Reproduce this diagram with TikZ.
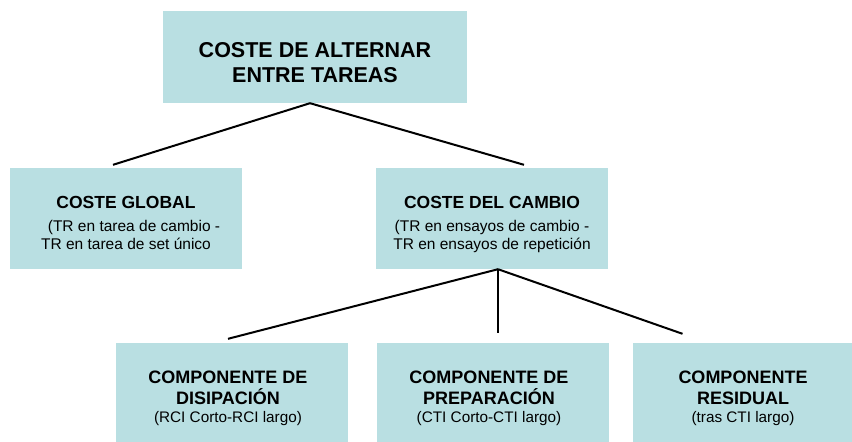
\documentclass[tikz,border=0pt]{standalone}
\usepackage{fontspec}
\setmainfont{Liberation Sans}
\definecolor{cajaazul}{RGB}{185,223,226}

\begin{document}
\begin{tikzpicture}[x=1pt,y=-1pt]
        \tikzstyle{caja}=[fill=cajaazul,inner sep=0pt,minimum width=232pt]
        \tikzstyle{texto}=[align=center,inner sep=0pt,text=black]
        \tikzstyle{linea}=[line width=2pt]
        \tikzstyle{titulo}=[font=\fontsize{17.5}{21}\selectfont\bfseries]
        \tikzstyle{desc}=[font=\fontsize{15.5}{18.3}\selectfont]
        \tikzstyle{comp}=[font=\fontsize{18}{21}\selectfont\bfseries]
        \useasboundingbox (0,0) rectangle (852,442);
        \node[caja,minimum width=304pt,minimum height=92pt] (raiz) at (315,57) {};
        \node[caja,minimum height=101pt] (global) at (126,218.5) {};
        \node[caja,minimum height=101pt] (cambio) at (492,218.5) {};
        \node[caja,minimum height=99pt] (disip) at (232,392.5) {};
        \node[caja,minimum height=99pt] (prep) at (493,392.5) {};
        \node[caja,minimum width=219pt,minimum height=99pt] (resid) at (742.5,392.5) {};
        \node[texto,font=\fontsize{21.5}{25}\selectfont\bfseries] (raiztxt) at (315,62.6) {COSTE DE ALTERNAR\\ENTRE TAREAS};
        \node[texto,desc] (globaltxt) at (126,222.8) {{\fontsize{17.5}{21}\selectfont\bfseries COSTE GLOBAL}\\[5pt]\hspace*{16pt}(TR en tarea de cambio -\\TR en tarea de set único};
        \node[texto,desc] (cambiotxt) at (492,224.5) {{\fontsize{17.5}{21}\selectfont\bfseries COSTE DEL CAMBIO}\\[5pt](TR en ensayos de cambio -\hspace*{10pt}\\TR en ensayos de repetición};
        \node[texto,comp] (disiptxt) at (228,398.5) {COMPONENTE DE\\DISIPACIÓN\\[-3pt]{\fontsize{15.3}{18}\selectfont\mdseries (RCI Corto-RCI largo)}};
        \node[texto,comp] (preptxt) at (489,398.5) {COMPONENTE DE\\PREPARACIÓN\\[-3pt]{\fontsize{15.3}{18}\selectfont\mdseries (CTI Corto-CTI largo)}};
        \node[texto,comp] (residtxt) at (743,398.5) {COMPONENTE\\RESIDUAL\\[-3pt]{\fontsize{15.3}{18}\selectfont\mdseries (tras CTI largo)}};
        \draw[linea] ([xshift=-5pt]raiz.south) -- ([shift={(-13,-3)}]global.north);
        \draw[linea] ([xshift=-5pt]raiz.south) -- ([shift={(32,-3)}]cambio.north);
        \draw[linea] ([xshift=6pt]cambio.south) -- ([shift={(-4,-4)}]disip.north);
        \draw[linea] ([xshift=6pt]cambio.south) -- ([shift={(5,-10)}]prep.north);
        \draw[linea] ([xshift=6pt]cambio.south) -- ([shift={(-60,-9)}]resid.north);
    \end{tikzpicture}
\end{document}
